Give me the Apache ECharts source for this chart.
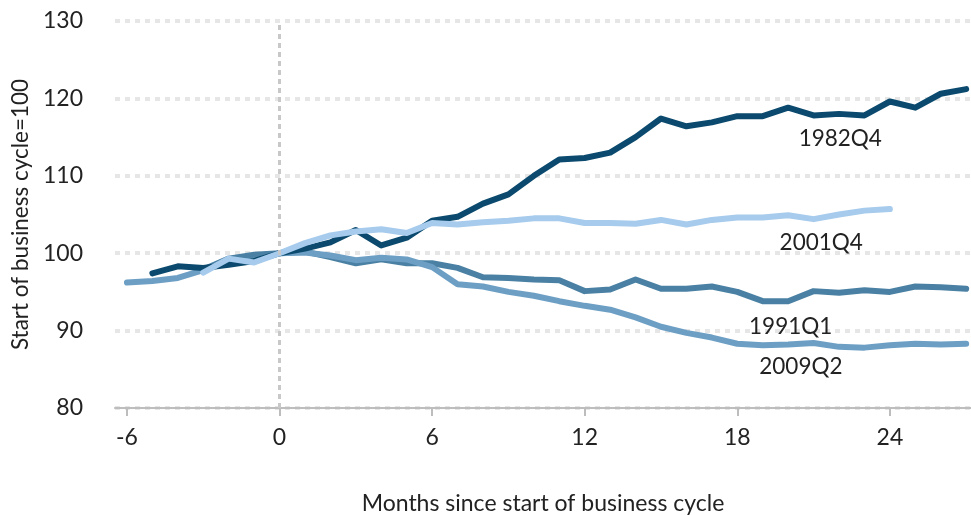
<!DOCTYPE html>
<html>
<head>
<meta charset="utf-8">
<script src="https://cdn.jsdelivr.net/npm/echarts@6/dist/echarts.min.js"></script>
<style>html,body{margin:0;padding:0;background:#fff}#c{width:971px;height:515px}</style>
</head>
<body>
<div id="c"></div>
<script>
const xTicks = [-6, 0, 6, 12, 18, 24];
const yTicks = [80, 90, 100, 110, 120, 130];

const start1982 = -5;
const v1982 = [97.4, 98.3, 98.1, 98.5, 99.0, 100, 100.6, 101.4, 103.0, 101.0, 102.0, 104.2, 104.7, 106.4, 107.6, 110.0, 112.1, 112.3, 113.0, 115.0, 117.4, 116.4, 116.9, 117.7, 117.7, 118.8, 117.8, 118.0, 117.8, 119.6, 118.8, 120.6, 121.2];

const start2001 = -3;
const v2001 = [97.5, 99.3, 98.8, 100, 101.3, 102.3, 102.8, 103.1, 102.6, 103.9, 103.7, 104.0, 104.2, 104.5, 104.5, 103.9, 103.9, 103.8, 104.3, 103.7, 104.3, 104.6, 104.6, 104.9, 104.4, 105.0, 105.5, 105.7];

const start1991 = -3;
const v1991 = [97.9, 99.3, 99.8, 100, 100.2, 99.5, 98.7, 99.2, 98.7, 98.7, 98.1, 96.9, 96.8, 96.6, 96.5, 95.1, 95.3, 96.6, 95.4, 95.4, 95.7, 95.0, 93.8, 93.8, 95.1, 94.9, 95.2, 95.0, 95.7, 95.6, 95.4];

const start2009 = -6;
const v2009 = [96.2, 96.4, 96.8, 97.8, 98.9, 99.0, 100, 100.1, 99.7, 99.1, 99.4, 99.2, 98.2, 96.0, 95.7, 95.0, 94.5, 93.8, 93.2, 92.7, 91.7, 90.5, 89.7, 89.1, 88.3, 88.1, 88.2, 88.4, 87.9, 87.8, 88.1, 88.3, 88.2, 88.3];

function pairs(start, vals) { return vals.map((v, i) => [start + i, v]); }

const FONT = 'Lato';
const TXT = '#222';

function lineSeries(name, data, color, labelCoord) {
  return {
    name: name, type: 'line', data: data, symbol: 'none', smooth: false,
    lineStyle: { color: color, width: 6, cap: 'round', join: 'round' },
    emphasis: { disabled: true },
    markPoint: {
      symbol: 'circle', symbolSize: 0, silent: true,
      label: { show: true, position: 'inside', formatter: '{b}', color: TXT, fontFamily: FONT, fontSize: 22.5 },
      data: [{ name: name, coord: labelCoord }]
    }
  };
}

const chart = echarts.init(document.getElementById('c'), null, { renderer: 'canvas' });
const s1991 = lineSeries('1991Q1', pairs(start1991, v1991), '#4a80a3', [20.1, 90.5]);
s1991.markLine = {
  symbol: 'none', silent: true, label: { show: false },
  lineStyle: { color: '#c8c8c8', width: 3, type: [5, 4] },
  data: [{ xAxis: 0 }]
};
chart.setOption({
  animation: false,
  grid: { left: 115, right: 0, top: 21, bottom: 107, containLabel: false, outerBoundsMode: 'none' },
  xAxis: {
    type: 'value', min: -6.47, max: 27.19,
    name: 'Months since start of business cycle', nameLocation: 'middle', nameGap: 84,
    nameTextStyle: { color: TXT, fontFamily: FONT, fontSize: 23 },
    axisLine: { show: true, lineStyle: { color: '#bdbdbd', width: 2 } },
    axisTick: { show: true, customValues: xTicks, length: 8, lineStyle: { color: '#bdbdbd', width: 2 } },
    axisLabel: { customValues: xTicks, color: TXT, fontFamily: FONT, fontSize: 23, margin: 18 },
    splitLine: { show: false }
  },
  yAxis: {
    type: 'value', min: 80, max: 130, interval: 10,
    name: 'Start of business cycle=100', nameLocation: 'middle', nameGap: 81,
    nameTextStyle: { color: TXT, fontFamily: FONT, fontSize: 22.5 },
    axisLine: { show: false }, axisTick: { show: false },
    axisLabel: { color: TXT, fontFamily: FONT, fontSize: 23, margin: 32 },
    splitLine: { show: true, lineStyle: { color: '#e6e6e6', width: 4, type: [5, 5] } }
  },
  series: [
    s1991,
    lineSeries('2009Q2', pairs(start2009, v2009), '#6d9fc5', [20.5, 85.3]),
    lineSeries('1982Q4', pairs(start1982, v1982), '#0b4a6e', [22.05, 114.8]),
    lineSeries('2001Q4', pairs(start2001, v2001), '#a6cbec', [21.3, 101.3])
  ]
});
</script>
</body>
</html>
